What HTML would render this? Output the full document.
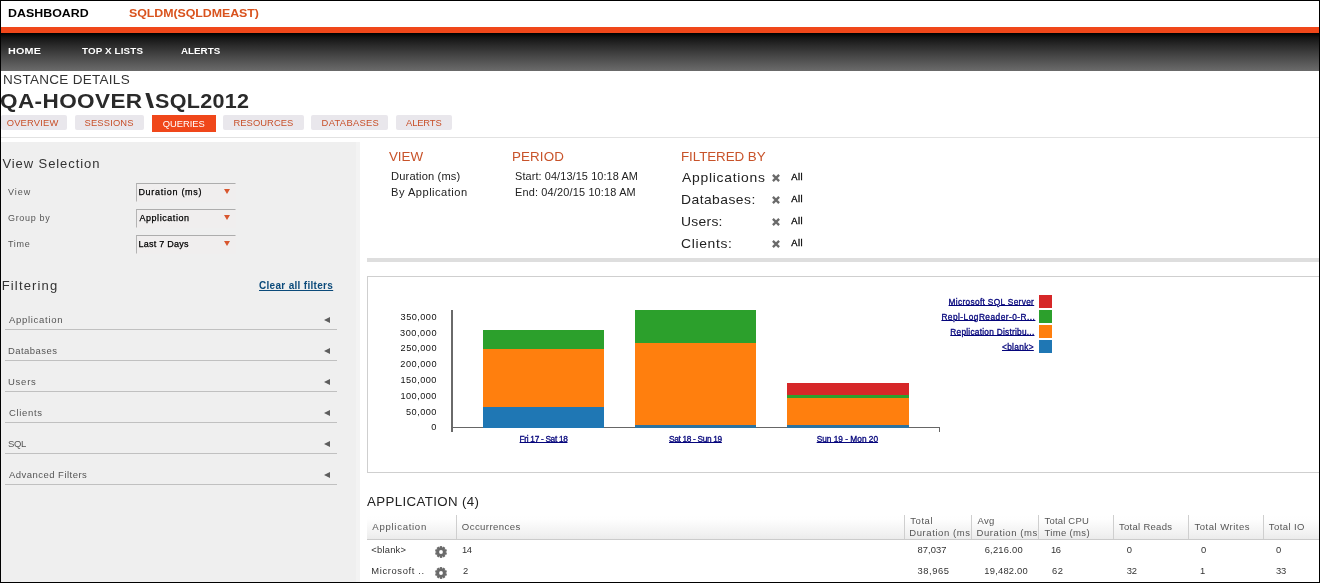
<!DOCTYPE html>
<html lang="en"><head><meta charset="utf-8"><title>SQLDM Dashboard - Queries</title>
<style>
html,body{margin:0;padding:0;}
body{width:1320px;height:583px;overflow:hidden;background:#fff;font-family:"Liberation Sans",sans-serif;}
#page{position:relative;width:1320px;height:583px;overflow:hidden;background:#fff;}
#page>*{position:absolute;}
.t{white-space:pre;line-height:1;display:block;}
.frame{left:0;top:0;width:1318px;height:581px;border:1px solid #000;z-index:50;pointer-events:none;}
.obar{left:1px;top:27px;width:1318px;height:6px;background:#f0471a;}
.nav{left:1px;top:33px;width:1318px;height:37.5px;background:linear-gradient(#000 0%,#141414 12%,#2d2d2d 35%,#484848 62%,#6b6b6b 100%);}
.tab{top:115px;height:14.5px;background:#e9e7ec;border-radius:2px;}
.tab.on{background:#f0471a;height:17px;border-radius:0;}
.hline{left:1px;top:137px;width:1318px;height:1px;background:#e2e2e2;}
.side{left:1px;top:142px;width:359px;height:440px;background:#efefef;}
.side2{left:355.5px;top:142px;width:4.5px;height:440px;background:#f3f3f3;}
.sel{left:136px;width:98px;height:17px;border:1px solid #f0eeee;border-top-color:#adadad;border-left-color:#b4b4b4;background:#f0eeee;}
.dd{width:0;height:0;border-left:3.2px solid transparent;border-right:3.2px solid transparent;border-top:5.2px solid #d8562e;left:224px;}
.acc{left:5px;width:332px;height:1px;background:#c0c0c0;}
.arr{width:0;height:0;border-top:3.8px solid transparent;border-bottom:3.8px solid transparent;border-right:6.9px solid #5e5e5e;left:323.7px;margin-top:0.4px;}
.gbar{left:367px;top:258px;width:952px;height:4px;background:#dedede;}
.chartbox{left:367px;top:276px;width:960px;height:195px;border:1px solid #cfcfcf;background:#fff;}
.thead{left:367px;top:515px;width:952px;height:24px;background:linear-gradient(#fff 0%,#fefefe 18%,#f7f7f7 50%,#f2f2f2 75%,#ebebeb 100%);border-bottom:1px solid #cbcbcb;}
.sep{top:515px;width:1px;height:24px;background:#cfcfcf;}
svg{overflow:visible;}
.g{background:#2ca02c;}.o{background:#ff7f0e;}.b{background:#1f77b4;}.r{background:#d62728;}
.yax{left:451.3px;top:310px;width:1.8px;height:121.5px;background:#6a6a6a;}
.xax{left:452px;top:427.2px;width:487px;height:1.3px;background:#666;}
.xtick{left:938.5px;top:427.2px;width:1px;height:4.8px;background:#666;}
.sw{left:1039px;width:13px;height:13px;}

</style></head>
<body>
<div id="page">
<div class="obar"></div>
<div class="nav"></div>
<div class="tab" style="left:1px;width:66px"></div>
<div class="tab" style="left:75px;width:68.5px"></div>
<div class="tab on" style="left:152px;width:64px"></div>
<div class="tab" style="left:223px;width:81px"></div>
<div class="tab" style="left:311px;width:77px"></div>
<div class="tab" style="left:396px;width:56px"></div>
<div class="hline"></div>
<div class="side"></div>
<div class="side2"></div>
<div class="sel" style="top:183px"></div>
<div class="sel" style="top:209px"></div>
<div class="sel" style="top:235px"></div>
<div class="dd" style="top:189.3px"></div>
<div class="dd" style="top:215.3px"></div>
<div class="dd" style="top:241.3px"></div>
<div class="acc" style="top:329px"></div>
<div class="acc" style="top:360px"></div>
<div class="acc" style="top:391px"></div>
<div class="acc" style="top:422px"></div>
<div class="acc" style="top:453px"></div>
<div class="acc" style="top:484px"></div>
<div class="arr" style="top:316.3px"></div>
<div class="arr" style="top:347.3px"></div>
<div class="arr" style="top:378.3px"></div>
<div class="arr" style="top:409.3px"></div>
<div class="arr" style="top:440.3px"></div>
<div class="arr" style="top:471.3px"></div>
<div class="gbar"></div>
<div class="chartbox"></div>
<div class="yax"></div><div class="xax"></div><div class="xtick"></div>
<div class="g" style="left:483px;top:329.9px;width:121.3px;height:19.4px;"></div>
<div class="o" style="left:483px;top:349.1px;width:121.3px;height:57.8px;"></div>
<div class="b" style="left:483px;top:406.7px;width:121.3px;height:21.2px;"></div>
<div class="g" style="left:635px;top:309.9px;width:121.0px;height:33.1px;"></div>
<div class="o" style="left:635px;top:342.7px;width:121.0px;height:82.7px;"></div>
<div class="b" style="left:635px;top:425.2px;width:121.0px;height:2.7px;background:#2c729f;"></div>
<div class="r" style="left:787px;top:383.3px;width:121.6px;height:12.1px;"></div>
<div class="g" style="left:787px;top:395.2px;width:121.6px;height:3.0px;"></div>
<div class="o" style="left:787px;top:398px;width:121.6px;height:27.4px;"></div>
<div class="b" style="left:787px;top:425.2px;width:121.6px;height:2.7px;background:#2c729f;"></div>
<div class="sw r" style="top:295px"></div>
<div class="sw g" style="top:310px"></div>
<div class="sw o" style="top:325px"></div>
<div class="sw b" style="top:340px"></div>
<div class="thead"></div>
<div class="sep" style="left:456px"></div>
<div class="sep" style="left:904px"></div>
<div class="sep" style="left:971px"></div>
<div class="sep" style="left:1038px"></div>
<div class="sep" style="left:1113px"></div>
<div class="sep" style="left:1188px"></div>
<div class="sep" style="left:1263px"></div>
<svg style="left:771px;top:172.8px" width="10" height="10" viewBox="-5 -5 10 10"><path d="M-3.1 -3.1L3.1 3.1M3.1 -3.1L-3.1 3.1" stroke="#6a6a6a" stroke-width="2.3" fill="none"/></svg>
<svg style="left:771px;top:194.8px" width="10" height="10" viewBox="-5 -5 10 10"><path d="M-3.1 -3.1L3.1 3.1M3.1 -3.1L-3.1 3.1" stroke="#6a6a6a" stroke-width="2.3" fill="none"/></svg>
<svg style="left:771px;top:216.8px" width="10" height="10" viewBox="-5 -5 10 10"><path d="M-3.1 -3.1L3.1 3.1M3.1 -3.1L-3.1 3.1" stroke="#6a6a6a" stroke-width="2.3" fill="none"/></svg>
<svg style="left:771px;top:238.8px" width="10" height="10" viewBox="-5 -5 10 10"><path d="M-3.1 -3.1L3.1 3.1M3.1 -3.1L-3.1 3.1" stroke="#6a6a6a" stroke-width="2.3" fill="none"/></svg>
<svg style="left:434.2px;top:544.5px" width="14" height="14" viewBox="-7 -7 14 14"><g fill="#6a6a6a"><rect x="-1.25" y="-5.9" width="2.4" height="3" transform="rotate(0)"/><rect x="-1.25" y="-5.9" width="2.4" height="3" transform="rotate(36)"/><rect x="-1.25" y="-5.9" width="2.4" height="3" transform="rotate(72)"/><rect x="-1.25" y="-5.9" width="2.4" height="3" transform="rotate(108)"/><rect x="-1.25" y="-5.9" width="2.4" height="3" transform="rotate(144)"/><rect x="-1.25" y="-5.9" width="2.4" height="3" transform="rotate(180)"/><rect x="-1.25" y="-5.9" width="2.4" height="3" transform="rotate(216)"/><rect x="-1.25" y="-5.9" width="2.4" height="3" transform="rotate(252)"/><rect x="-1.25" y="-5.9" width="2.4" height="3" transform="rotate(288)"/><rect x="-1.25" y="-5.9" width="2.4" height="3" transform="rotate(324)"/><path fill-rule="evenodd" d="M0 -4.7A4.7 4.7 0 1 0 0 4.7A4.7 4.7 0 1 0 0 -4.7ZM0 -1.9A1.9 1.9 0 1 1 0 1.9A1.9 1.9 0 1 1 0 -1.9Z"/></g></svg>
<svg style="left:434.2px;top:565.5px" width="14" height="14" viewBox="-7 -7 14 14"><g fill="#6a6a6a"><rect x="-1.25" y="-5.9" width="2.4" height="3" transform="rotate(0)"/><rect x="-1.25" y="-5.9" width="2.4" height="3" transform="rotate(36)"/><rect x="-1.25" y="-5.9" width="2.4" height="3" transform="rotate(72)"/><rect x="-1.25" y="-5.9" width="2.4" height="3" transform="rotate(108)"/><rect x="-1.25" y="-5.9" width="2.4" height="3" transform="rotate(144)"/><rect x="-1.25" y="-5.9" width="2.4" height="3" transform="rotate(180)"/><rect x="-1.25" y="-5.9" width="2.4" height="3" transform="rotate(216)"/><rect x="-1.25" y="-5.9" width="2.4" height="3" transform="rotate(252)"/><rect x="-1.25" y="-5.9" width="2.4" height="3" transform="rotate(288)"/><rect x="-1.25" y="-5.9" width="2.4" height="3" transform="rotate(324)"/><path fill-rule="evenodd" d="M0 -4.7A4.7 4.7 0 1 0 0 4.7A4.7 4.7 0 1 0 0 -4.7ZM0 -1.9A1.9 1.9 0 1 1 0 1.9A1.9 1.9 0 1 1 0 -1.9Z"/></g></svg>
<div style="left:1px;top:73px;width:1.9px;height:13px;background:#fff;z-index:5"></div>
<div class="frame"></div>

<span class="t" style="left:8.0px;top:8px;font-size:11.8px;color:#000;font-weight:bold;letter-spacing:0.03px;transform:scaleX(1.05);transform-origin:0 0;">DASHBOARD</span>
<span class="t" style="left:128.6px;top:8px;font-size:11.8px;color:#d9531e;font-weight:bold;letter-spacing:-0.05px;transform:scaleX(1.05);transform-origin:0 0;">SQLDM(SQLDMEAST)</span>
<span class="t" style="left:7.5px;top:46px;font-size:9.8px;color:#fff;font-weight:bold;letter-spacing:0.18px;transform:scaleX(1.1);transform-origin:0 0;">HOME</span>
<span class="t" style="left:82.0px;top:46px;font-size:9.8px;color:#fff;font-weight:bold;letter-spacing:0.14px;">TOP X LISTS</span>
<span class="t" style="left:181.0px;top:46px;font-size:9.8px;color:#fff;font-weight:bold;">ALERTS</span>
<span class="t" style="left:-0.6px;top:74px;font-size:12.5px;color:#333;letter-spacing:0.27px;transform:scaleX(1.08);transform-origin:0 0;">INSTANCE DETAILS</span>
<span class="t" style="left:-0.1px;top:92px;font-size:19.6px;color:#2a2a2a;font-weight:bold;letter-spacing:0.34px;transform:scaleX(1.15);transform-origin:0 0;">QA-HOOVER</span>
<span class="t" style="left:145.0px;top:92px;font-size:19.6px;color:#2a2a2a;font-weight:bold;transform:scaleX(1.7);transform-origin:0 0;">\</span>
<span class="t" style="left:154.9px;top:92px;font-size:19.6px;color:#2a2a2a;font-weight:bold;letter-spacing:0.27px;transform:scaleX(1.1);transform-origin:0 0;">SQL2012</span>
<span class="t" style="left:6.7px;top:118px;font-size:9.4px;color:#c8502a;letter-spacing:0.19px;">OVERVIEW</span>
<span class="t" style="left:84.5px;top:118px;font-size:9.4px;color:#c8502a;letter-spacing:0.16px;">SESSIONS</span>
<span class="t" style="left:162.7px;top:119px;font-size:9.4px;color:#fff;letter-spacing:-0.03px;">QUERIES</span>
<span class="t" style="left:233.4px;top:118px;font-size:9.4px;color:#c8502a;letter-spacing:0.07px;">RESOURCES</span>
<span class="t" style="left:321.6px;top:118px;font-size:9.4px;color:#c8502a;letter-spacing:0.30px;">DATABASES</span>
<span class="t" style="left:406.0px;top:118px;font-size:9.4px;color:#c8502a;letter-spacing:-0.12px;">ALERTS</span>
<span class="t" style="left:2.4px;top:157px;font-size:13px;color:#333;letter-spacing:0.92px;">View Selection</span>
<span class="t" style="left:8.0px;top:188px;font-size:9px;color:#555;letter-spacing:1.00px;">View</span>
<span class="t" style="left:8.0px;top:214px;font-size:9px;color:#555;letter-spacing:0.66px;">Group by</span>
<span class="t" style="left:8.0px;top:240px;font-size:9px;color:#555;letter-spacing:0.67px;">Time</span>
<span class="t" style="left:138.4px;top:188px;font-size:9px;color:#000;letter-spacing:0.72px;-webkit-text-stroke:0.25px;">Duration (ms)</span>
<span class="t" style="left:139.4px;top:214px;font-size:9px;color:#000;letter-spacing:0.56px;-webkit-text-stroke:0.25px;">Application</span>
<span class="t" style="left:138.4px;top:240px;font-size:9px;color:#000;letter-spacing:0.26px;-webkit-text-stroke:0.25px;">Last 7 Days</span>
<span class="t" style="left:1.7px;top:279px;font-size:13px;color:#333;letter-spacing:1.16px;">Filtering</span>
<span class="t" style="left:259.0px;top:281px;font-size:10px;color:#0b4a7a;font-weight:bold;letter-spacing:0.31px;text-decoration:underline;">Clear all filters</span>
<span class="t" style="left:9.0px;top:315px;font-size:9.5px;color:#555;letter-spacing:0.70px;">Application</span>
<span class="t" style="left:8.0px;top:346px;font-size:9.5px;color:#555;letter-spacing:0.44px;">Databases</span>
<span class="t" style="left:8.0px;top:377px;font-size:9.5px;color:#555;letter-spacing:0.75px;">Users</span>
<span class="t" style="left:9.0px;top:408px;font-size:9.5px;color:#555;letter-spacing:0.67px;">Clients</span>
<span class="t" style="left:8.0px;top:439px;font-size:9.5px;color:#555;letter-spacing:-0.35px;">SQL</span>
<span class="t" style="left:9.0px;top:470px;font-size:9.5px;color:#555;letter-spacing:0.47px;">Advanced Filters</span>
<span class="t" style="left:388.5px;top:151px;font-size:12.4px;color:#c8532a;letter-spacing:-0.05px;transform:scaleX(1.08);transform-origin:0 0;">VIEW</span>
<span class="t" style="left:511.5px;top:151px;font-size:12.4px;color:#c8532a;letter-spacing:0.11px;transform:scaleX(1.08);transform-origin:0 0;">PERIOD</span>
<span class="t" style="left:681.2px;top:151px;font-size:12.4px;color:#c8532a;letter-spacing:-0.06px;transform:scaleX(1.08);transform-origin:0 0;">FILTERED BY</span>
<span class="t" style="left:390.6px;top:172px;font-size:10.3px;color:#222;letter-spacing:0.15px;transform:scaleX(1.08);transform-origin:0 0;">Duration (ms)</span>
<span class="t" style="left:390.6px;top:188px;font-size:10.3px;color:#222;letter-spacing:0.45px;transform:scaleX(1.08);transform-origin:0 0;">By Application</span>
<span class="t" style="left:514.7px;top:172px;font-size:10.3px;color:#222;letter-spacing:0.09px;transform:scaleX(1.06);transform-origin:0 0;">Start: 04/13/15 10:18 AM</span>
<span class="t" style="left:514.7px;top:188px;font-size:10.3px;color:#222;letter-spacing:0.16px;transform:scaleX(1.06);transform-origin:0 0;">End: 04/20/15 10:18 AM</span>
<span class="t" style="left:682.3px;top:172px;font-size:12.4px;color:#222;letter-spacing:0.66px;transform:scaleX(1.12);transform-origin:0 0;">Applications</span>
<span class="t" style="left:681.2px;top:194px;font-size:12.4px;color:#222;letter-spacing:0.40px;transform:scaleX(1.12);transform-origin:0 0;">Databases:</span>
<span class="t" style="left:681.2px;top:216px;font-size:12.4px;color:#222;letter-spacing:0.24px;transform:scaleX(1.12);transform-origin:0 0;">Users:</span>
<span class="t" style="left:681.2px;top:238px;font-size:12.4px;color:#222;letter-spacing:0.59px;transform:scaleX(1.12);transform-origin:0 0;">Clients:</span>
<span class="t" style="left:791.3px;top:173px;font-size:9.3px;color:#000;letter-spacing:0.45px;-webkit-text-stroke:0.3px;">All</span>
<span class="t" style="left:791.3px;top:195px;font-size:9.3px;color:#000;letter-spacing:0.45px;-webkit-text-stroke:0.3px;">All</span>
<span class="t" style="left:791.3px;top:217px;font-size:9.3px;color:#000;letter-spacing:0.45px;-webkit-text-stroke:0.3px;">All</span>
<span class="t" style="left:791.3px;top:239px;font-size:9.3px;color:#000;letter-spacing:0.45px;-webkit-text-stroke:0.3px;">All</span>
<span class="t" style="left:400.6px;top:313px;font-size:9.2px;color:#111;letter-spacing:0.45px;">350,000</span>
<span class="t" style="left:400.0px;top:329px;font-size:9.2px;color:#111;letter-spacing:0.55px;">300,000</span>
<span class="t" style="left:400.6px;top:344px;font-size:9.2px;color:#111;letter-spacing:0.45px;">250,000</span>
<span class="t" style="left:400.3px;top:360px;font-size:9.2px;color:#111;letter-spacing:0.50px;">200,000</span>
<span class="t" style="left:400.4px;top:376px;font-size:9.2px;color:#111;letter-spacing:0.48px;">150,000</span>
<span class="t" style="left:400.4px;top:392px;font-size:9.2px;color:#111;letter-spacing:0.48px;">100,000</span>
<span class="t" style="left:406.0px;top:408px;font-size:9.2px;color:#111;letter-spacing:0.46px;">50,000</span>
<span class="t" style="left:431.3px;top:423px;font-size:9.2px;color:#111;">0</span>
<span class="t" style="left:519.6px;top:435px;font-size:8.3px;color:#06067c;letter-spacing:-0.31px;text-decoration:underline;text-decoration-thickness:0.8px;text-underline-offset:0.4px;-webkit-text-stroke:0.3px;">Fri 17 - Sat 18</span>
<span class="t" style="left:669.0px;top:435px;font-size:8.3px;color:#06067c;letter-spacing:-0.32px;text-decoration:underline;text-decoration-thickness:0.8px;text-underline-offset:0.4px;-webkit-text-stroke:0.3px;">Sat 18 - Sun 19</span>
<span class="t" style="left:816.7px;top:435px;font-size:8.3px;color:#06067c;text-decoration:underline;text-decoration-thickness:0.8px;text-underline-offset:0.4px;-webkit-text-stroke:0.3px;">Sun 19 - Mon 20</span>
<span class="t" style="left:948.6px;top:298px;font-size:8.3px;color:#06067c;letter-spacing:0.33px;text-decoration:underline;text-decoration-thickness:0.8px;text-underline-offset:0.4px;-webkit-text-stroke:0.3px;">Microsoft SQL Server</span>
<span class="t" style="left:941.4px;top:313px;font-size:8.3px;color:#06067c;letter-spacing:0.48px;text-decoration:underline;text-decoration-thickness:0.8px;text-underline-offset:0.4px;-webkit-text-stroke:0.3px;">Repl-LogReader-0-R...</span>
<span class="t" style="left:950.3px;top:328px;font-size:8.3px;color:#06067c;letter-spacing:0.25px;text-decoration:underline;text-decoration-thickness:0.8px;text-underline-offset:0.4px;-webkit-text-stroke:0.3px;">Replication Distribu...</span>
<span class="t" style="left:1002.0px;top:343px;font-size:8.3px;color:#06067c;letter-spacing:0.33px;text-decoration:underline;text-decoration-thickness:0.8px;text-underline-offset:0.4px;-webkit-text-stroke:0.3px;">&lt;blank&gt;</span>
<span class="t" style="left:367.4px;top:496px;font-size:12.3px;color:#222;letter-spacing:0.34px;transform:scaleX(1.08);transform-origin:0 0;">APPLICATION (4)</span>
<span class="t" style="left:372.3px;top:522px;font-size:9.6px;color:#555;letter-spacing:0.70px;">Application</span>
<span class="t" style="left:461.8px;top:522px;font-size:9.6px;color:#555;letter-spacing:0.42px;">Occurrences</span>
<span class="t" style="left:910.3px;top:516px;font-size:9.5px;color:#555;letter-spacing:0.55px;">Total</span>
<span class="t" style="left:909.3px;top:528px;font-size:9.5px;color:#555;letter-spacing:0.58px;width:61.7px;overflow:hidden;">Duration (ms)</span>
<span class="t" style="left:977.5px;top:516px;font-size:9.5px;color:#555;letter-spacing:0.35px;">Avg</span>
<span class="t" style="left:976.5px;top:528px;font-size:9.5px;color:#555;letter-spacing:0.58px;width:61.5px;overflow:hidden;">Duration (ms)</span>
<span class="t" style="left:1044.5px;top:516px;font-size:9.5px;color:#555;letter-spacing:0.19px;">Total CPU</span>
<span class="t" style="left:1044.5px;top:528px;font-size:9.5px;color:#555;letter-spacing:0.34px;">Time (ms)</span>
<span class="t" style="left:1119.0px;top:522px;font-size:9.5px;color:#555;letter-spacing:0.28px;">Total Reads</span>
<span class="t" style="left:1194.6px;top:522px;font-size:9.5px;color:#555;letter-spacing:0.49px;">Total Writes</span>
<span class="t" style="left:1268.8px;top:522px;font-size:9.5px;color:#555;letter-spacing:0.41px;">Total IO</span>
<span class="t" style="left:371.3px;top:545px;font-size:9.4px;color:#333;letter-spacing:0.22px;">&lt;blank&gt;</span>
<span class="t" style="left:462.0px;top:545px;font-size:9.4px;color:#333;letter-spacing:-0.35px;">14</span>
<span class="t" style="left:917.5px;top:545px;font-size:9.4px;color:#333;letter-spacing:0.06px;">87,037</span>
<span class="t" style="left:984.7px;top:545px;font-size:9.4px;color:#333;letter-spacing:0.21px;">6,216.00</span>
<span class="t" style="left:1051.0px;top:545px;font-size:9.4px;color:#333;letter-spacing:-0.35px;">16</span>
<span class="t" style="left:1126.8px;top:545px;font-size:9.4px;color:#333;">0</span>
<span class="t" style="left:1201.0px;top:545px;font-size:9.4px;color:#333;">0</span>
<span class="t" style="left:1276.0px;top:545px;font-size:9.4px;color:#333;">0</span>
<span class="t" style="left:371.3px;top:566px;font-size:9.4px;color:#333;letter-spacing:0.63px;">Microsoft ..</span>
<span class="t" style="left:463.0px;top:566px;font-size:9.4px;color:#333;">2</span>
<span class="t" style="left:917.5px;top:566px;font-size:9.4px;color:#333;letter-spacing:0.56px;">38,965</span>
<span class="t" style="left:984.3px;top:566px;font-size:9.4px;color:#333;letter-spacing:0.21px;">19,482.00</span>
<span class="t" style="left:1052.0px;top:566px;font-size:9.4px;color:#333;letter-spacing:0.50px;">62</span>
<span class="t" style="left:1126.8px;top:566px;font-size:9.4px;color:#333;letter-spacing:-0.20px;">32</span>
<span class="t" style="left:1200.0px;top:566px;font-size:9.4px;color:#333;">1</span>
<span class="t" style="left:1276.0px;top:566px;font-size:9.4px;color:#333;letter-spacing:-0.20px;">33</span>
</div>
</body></html>
